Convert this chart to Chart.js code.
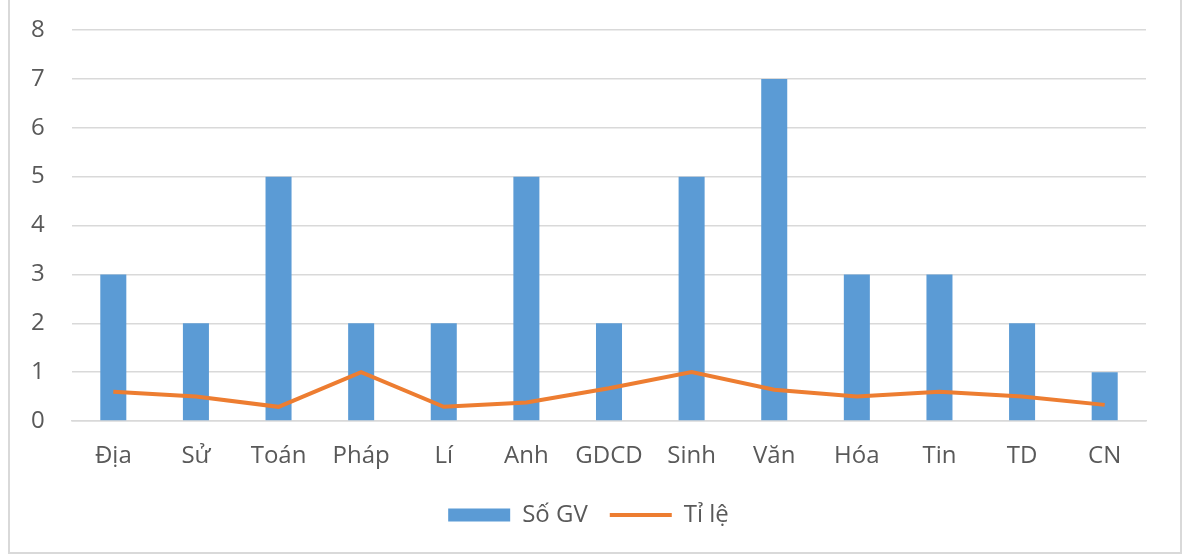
<!DOCTYPE html>
<html>
<head>
<meta charset="utf-8">
<script src="https://cdn.jsdelivr.net/npm/chart.js@4"></script>
<style>
  html, body { margin: 0; padding: 0; background: #fff; }
  #wrap { position: relative; width: 1184px; height: 556px; }
  #frame { position: absolute; left: 8px; top: -2px; width: 1174px; height: 556px;
           border: 2px solid #d9d9d9; box-sizing: border-box; pointer-events: none; }
</style>
</head>
<body>
<div id="wrap">
  <canvas id="chart" width="1184" height="556"></canvas>
  <div id="frame"></div>
</div>
<script>
const subjects = ['Địa', 'Sử', 'Toán', 'Pháp', 'Lí', 'Anh', 'GDCD', 'Sinh', 'Văn', 'Hóa', 'Tin', 'TD', 'CN'];
const soGV = [3, 2, 5, 2, 2, 5, 2, 5, 7, 3, 3, 2, 1];
const tiLe = [0.6, 0.5, 0.29, 1, 0.29, 0.38, 0.67, 1, 0.64, 0.5, 0.6, 0.5, 0.33];

const textColor = '#595959';
const font = { family: '"Open Sans", sans-serif', size: 24 };

const ctx = document.getElementById('chart').getContext('2d');
new Chart(ctx, {
    type: 'bar',
    data: {
        labels: subjects,
        datasets: [{
            label: 'Số GV',
            data: soGV,
            backgroundColor: '#5b9bd5',
            barPercentage: 0.315,
            categoryPercentage: 1,
            pointStyle: 'rect',
            order: 2
        }, {
            type: 'line',
            label: 'Tỉ lệ',
            data: tiLe,
            borderColor: '#ed7d31',
            backgroundColor: '#ed7d31',
            borderWidth: 4,
            pointRadius: 0,
            pointStyle: 'line',
            tension: 0,
            order: 1
        }]
    },
    options: {
        responsive: false,
        animation: false,
        layout: { padding: { top: 30, right: 38, left: 31, bottom: 19 } },
        scales: {
            y: {
                min: 0,
                max: 8,
                // labels sit at the left edge, the axis box is widened to leave the gap
                ticks: { stepSize: 1, color: textColor, font: font, padding: 0, crossAlign: 'far' },
                grid: { color: '#d9d9d9', lineWidth: 1.5, drawTicks: false },
                border: { display: false },
                afterFit: function (scale) { scale.width = 41; }
            },
            x: {
                ticks: { color: textColor, font: font, padding: 21 },
                grid: { display: false, drawTicks: false },
                border: { color: '#d9d9d9', width: 1.5 },
                afterFit: function (scale) { scale.height = 60; }
            }
        },
        plugins: {
            legend: {
                position: 'bottom',
                labels: {
                    color: textColor,
                    font: font,
                    usePointStyle: true,
                    pointStyleWidth: 62,
                    boxHeight: 13,
                    padding: 22,
                    sort: (a, b) => a.datasetIndex - b.datasetIndex
                }
            },
            tooltip: { enabled: false }
        }
    }
});
</script>
</body>
</html>
